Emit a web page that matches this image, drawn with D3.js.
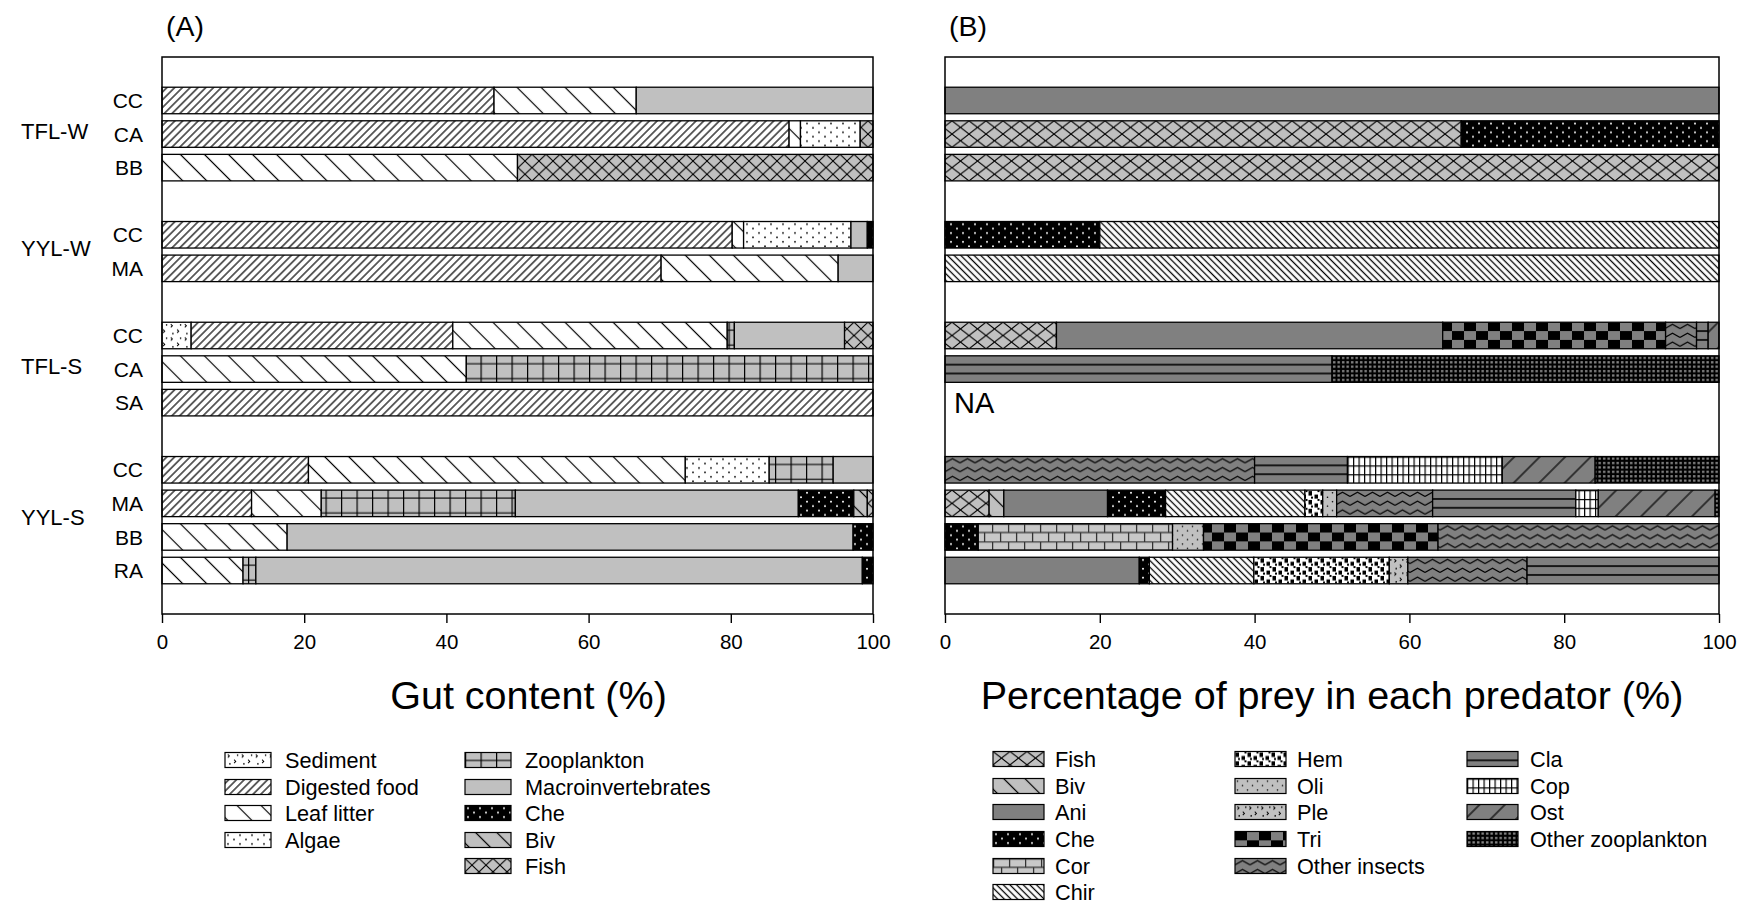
<!DOCTYPE html>
<html>
<head>
<meta charset="utf-8">
<script src="https://cdn.jsdelivr.net/npm/d3@7"></script>
<style>
  body { margin: 0; background: #fff; }
  svg { display: block; font-family: "Liberation Sans", Arial, Helvetica, sans-serif; }
</style>
</head>
<body>
<svg id="chart" width="1740" height="905"></svg>
<script>
// ---- data ---------------------------------------------------------------
const groupNames = ["TFL-W", "YYL-W", "TFL-S", "YYL-S"];
const groupPredators = [["CC", "CA", "BB"], ["CC", "MA"], ["CC", "CA", "SA"], ["CC", "MA", "BB", "RA"]];

// (A) gut content categories, stacked left to right
const gutItems = ["Sediment", "Digested food", "Leaf litter", "Algae", "Zooplankton",
                  "Macroinvertebrates", "Che", "Biv", "Fish"];
// one row per predator, in the order of groupPredators (values in %)
const gutContent = [
  [0,   46.7, 20.0, 0,    0,    33.3, 0,   0,   0  ],  // TFL-W CC
  [0,   88.2,  1.6, 8.4,  0,    0,    0,   0,   1.8],  // TFL-W CA
  [0,   0,    50.0, 0,    0,    0,    0,   0,  50.0],  // TFL-W BB
  [0,   80.2,  1.6, 15.1, 0,    2.3,  0.8, 0,   0  ],  // YYL-W CC
  [0,   70.2, 24.9, 0,    0,    4.9,  0,   0,   0  ],  // YYL-W MA
  [4.1, 36.8, 38.6, 0,    1.0, 15.5,  0,   0,   4.0],  // TFL-S CC
  [0,   0,    42.8, 0,   57.2,  0,    0,   0,   0  ],  // TFL-S CA
  [0, 100.0,   0,   0,    0,    0,    0,   0,   0  ],  // TFL-S SA
  [0,   20.6, 53.0, 11.8, 9.0,  5.6,  0,   0,   0  ],  // YYL-S CC
  [0,   12.6,  9.8, 0,   27.3, 39.8,  7.8, 1.9, 0.8],  // YYL-S MA
  [0,   0,    17.6, 0,    0,   79.6,  2.8, 0,   0  ],  // YYL-S BB
  [0,   0,    11.4, 0,    1.8, 85.3,  1.5, 0,   0  ]   // YYL-S RA
];

// (B) prey categories, stacked left to right
const preyItems = ["Fish", "Biv", "Ani", "Che", "Cor", "Chir", "Hem", "Oli", "Ple", "Tri",
                   "Other insects", "Cla", "Cop", "Ost", "Other zooplankton"];
// null marks a predator without prey data (NA)
const preyShare = [
  [0,    0,   100,  0,   0,    0,    0,    0,   0,   0,    0,    0,    0,    0,    0   ],  // TFL-W CC
  [66.7, 0,   0,   33.3, 0,    0,    0,    0,   0,   0,    0,    0,    0,    0,    0   ],  // TFL-W CA
  [100,  0,   0,    0,   0,    0,    0,    0,   0,   0,    0,    0,    0,    0,    0   ],  // TFL-W BB
  [0,    0,   0,   20.0, 0,   80.0,  0,    0,   0,   0,    0,    0,    0,    0,    0   ],  // YYL-W CC
  [0,    0,   0,    0,   0,  100,    0,    0,   0,   0,    0,    0,    0,    0,    0   ],  // YYL-W MA
  [14.4, 0,  49.9,  0,   0,    0,    0,    0,   0,  28.8,  4.0,  1.5,  0,    1.4,  0   ],  // TFL-S CC
  [0,    0,   0,    0,   0,    0,    0,    0,   0,   0,    0,   50.0,  0,    0,   50.0 ],  // TFL-S CA
  null,                                                                                     // TFL-S SA
  [0,    0,   0,    0,   0,    0,    0,    0,   0,   0,   40.0, 12.0, 20.0, 12.0, 16.0 ],  // YYL-S CC
  [5.7,  1.9, 13.4, 7.5, 0,   18.0,  2.3,  1.8, 0,   0,   12.4, 18.5,  2.9, 15.1,  0.5 ],  // YYL-S MA
  [0,    0,   0,    4.3, 25.1, 0,    0,    4.0, 0,  30.3, 36.3,  0,    0,    0,    0   ],  // YYL-S BB
  [0,    0,  25.1,  1.3, 0,   13.5, 17.5,  0,   2.4, 0,   15.4, 24.8,  0,    0,    0   ]   // YYL-S RA
];

const xTicks = [0, 20, 40, 60, 80, 100];
const panelLabels = ["(A)", "(B)"];
const axisTitles = ["Gut content (%)", "Percentage of prey in each predator (%)"];

// ---- layout -------------------------------------------------------------
const svg = d3.select("#chart");
const defs = svg.append("defs");
const FONT = 21;
const LEGEND_FONT = 21.7;
const LIGHT = "#c0c0c0", DARK = "#808080";

const plotTop = 57, plotBottom = 614;
const panels = [
  { x0: 162, x1: 873, titleShift: 11 },
  { x0: 945, x1: 1719, titleShift: 0 }
];

// each group is followed by an empty slot
const rows = [];
let slot = 0;
groupPredators.forEach((preds, gi) => {
  preds.forEach(p => rows.push({ group: gi, pred: p, slot: slot++ }));
  slot++;
});
const nSlots = slot - 1;

const y = d3.scaleBand()
  .domain(d3.range(nSlots))
  .range([plotTop, plotBottom])
  .paddingInner(0.21)
  .paddingOuter(0.9);
const bh = y.bandwidth();

// ---- fill patterns ------------------------------------------------------
function pat(id, w, h, bg, rotate) {
  const p = defs.append("pattern")
    .attr("id", id)
    .attr("patternUnits", "userSpaceOnUse")
    .attr("width", w).attr("height", h);
  if (rotate) p.attr("patternTransform", `rotate(${rotate})`);
  p.append("rect").attr("width", w).attr("height", h).attr("fill", bg);
  return p;
}
function line(p, x1, y1, x2, y2, sw, col) {
  p.append("line").attr("x1", x1).attr("y1", y1).attr("x2", x2).attr("y2", y2)
    .attr("stroke", col || "#000").attr("stroke-width", sw || 1.2);
}
function hatch(id, w, bg, rotate, sw) {
  const p = pat(id, w, w, bg, rotate);
  line(p, w / 2, 0, w / 2, w, sw);
}
function cross(id, w, h, bg) {
  const p = pat(id, w, h, bg);
  line(p, 0, 0, w, h, 1.1);
  line(p, w, 0, 0, h, 1.1);
}
function dots(id, w, h, bg, col, r) {
  const p = pat(id, w, h, bg);
  p.append("circle").attr("cx", w * 0.25).attr("cy", h * 0.3).attr("r", r).attr("fill", col);
  p.append("circle").attr("cx", w * 0.75).attr("cy", h * 0.8).attr("r", r).attr("fill", col);
}
function specks(id, w, h, bg) {
  const p = pat(id, w, h, bg);
  p.append("path").attr("d", `M${w*0.2},${h*0.15} l1.6,1.6 l-1.6,1.6`)
    .attr("fill", "none").attr("stroke", "#000").attr("stroke-width", 1);
  p.append("path").attr("d", `M${w*0.65},${h*0.55} l1.6,1.6 l-1.6,1.6`)
    .attr("fill", "none").attr("stroke", "#000").attr("stroke-width", 1);
  p.append("circle").attr("cx", w * 0.9).attr("cy", h * 0.2).attr("r", 0.8).attr("fill", "#000");
  p.append("circle").attr("cx", w * 0.35).attr("cy", h * 0.85).attr("r", 0.8).attr("fill", "#000");
}

// (A) fills
specks("a-0", 14, bh / 2, "#fff");                    // Sediment
hatch("a-1", 5.5, "#fff", 45, 1.2);                   // Digested food
hatch("a-2", 17, "#fff", -45, 1.2);                   // Leaf litter
dots("a-3", 12, bh / 3, "#fff", "#000", 0.9);         // Algae
{                                                     // Zooplankton
  const p = pat("a-4", 15.5, bh, LIGHT);
  line(p, 0.6, 0, 0.6, bh, 1.2);
  line(p, 0, bh * 0.3, 15.5, bh * 0.3, 1.1);
  line(p, 0, bh * 0.86, 15.5, bh * 0.86, 1.1);
}
pat("a-5", 10, 10, LIGHT);                            // Macroinvertebrates
dots("a-6", 12, bh / 3, "#000", "#fff", 1.0);         // Che
hatch("a-7", 15, LIGHT, -45, 1.2);                    // Biv
cross("a-8", 14, bh / 2, LIGHT);                      // Fish

// (B) fills
cross("b-0", 17, bh / 2, LIGHT);                      // Fish
hatch("b-1", 15, LIGHT, -45, 1.2);                    // Biv
pat("b-2", 10, 10, DARK);                             // Ani
dots("b-3", 12, bh / 3, "#000", "#fff", 1.0);         // Che
{                                                     // Cor (bricks)
  const r = bh / 3;
  const p = pat("b-4", 32, 2 * r, "#c8c8c8");
  line(p, 0, 0.5, 32, 0.5, 1.3, "#333");
  line(p, 0, r, 32, r, 1.3, "#333");
  line(p, 0.6, 0, 0.6, r, 1.3, "#333");
  line(p, 16.6, 0, 16.6, r, 1.3, "#333");
  line(p, 8.6, r, 8.6, 2 * r, 1.3, "#333");
  line(p, 24.6, r, 24.6, 2 * r, 1.3, "#333");
}
hatch("b-5", 4.7, "#fff", -45, 1.3);                  // Chir
{                                                     // Hem
  const h = bh / 3;
  const p = pat("b-6", 12, h, "#fff");
  [[0.5, 1, 3.5, 4.5], [6.5, 4.5, 3.5, 4], [9.5, 0, 2, 2], [3, 6.5, 2, 2]].forEach(d =>
    p.append("rect").attr("x", d[0]).attr("y", d[1]).attr("width", d[2]).attr("height", d[3]).attr("fill", "#000"));
}
dots("b-7", 10, bh / 3, LIGHT, "#000", 0.8);          // Oli
specks("b-8", 12, bh / 2, LIGHT);                     // Ple
{                                                     // Tri (checkerboard)
  const c = bh / 3;
  const p = pat("b-9", 24, 2 * c, DARK);
  p.append("rect").attr("width", 12).attr("height", c).attr("fill", "#000");
  p.append("rect").attr("x", 12).attr("y", c).attr("width", 12).attr("height", c).attr("fill", "#000");
}
{                                                     // Other insects (zigzag)
  const h = bh / 3;
  const p = pat("b-10", 15, h, DARK);
  p.append("polyline").attr("points", `0,${h * 0.72} 7.5,${h * 0.25} 15,${h * 0.72}`)
    .attr("fill", "none").attr("stroke", "#000").attr("stroke-width", 1.1);
}
{                                                     // Cla
  const p = pat("b-11", 10, bh, DARK);
  line(p, 0, bh / 3, 10, bh / 3, 1.6);
  line(p, 0, 2 * bh / 3, 10, 2 * bh / 3, 1.6);
}
{                                                     // Cop (fine grid)
  const h = bh / 3;
  const p = pat("b-12", 5.5, h, "#fff");
  line(p, 0.6, 0, 0.6, h, 1.2);
  line(p, 0, 0.6, 5.5, 0.6, 1.2);
}
hatch("b-13", 18, DARK, 45, 1.2);                     // Ost
{                                                     // Other zooplankton
  const p = pat("b-14", 4.5, 4.4, "#000");
  p.append("rect").attr("x", 1).attr("y", 1).attr("width", 2.4).attr("height", 2.2).attr("fill", "#8a8a8a");
}

// ---- panels -------------------------------------------------------------
function drawPanel(pi, items, table, prefix) {
  const pn = panels[pi];
  const x = d3.scaleLinear().domain([0, 100]).range([pn.x0, pn.x1]);
  const g = svg.append("g");

  rows.forEach((r, ri) => {
    const vals = table[ri];
    const rowG = g.append("g").attr("transform", `translate(0,${y(r.slot)})`);
    if (!vals) {
      rowG.append("text")
        .attr("x", x(0) + 9).attr("y", bh / 2).attr("dy", "0.36em")
        .attr("font-size", 29).text("NA");
      return;
    }
    let cum = 0;
    const segs = [];
    vals.forEach((v, k) => {
      if (v > 0) segs.push({ k, a: cum, b: cum + v });
      cum += v;
    });
    rowG.selectAll("rect").data(segs).join("rect")
      .attr("x", d => x(d.a))
      .attr("width", d => x(d.b) - x(d.a))
      .attr("y", 0).attr("height", bh)
      .attr("fill", d => `url(#${prefix}-${d.k})`)
      .attr("stroke", "#000").attr("stroke-width", 1.3);
  });

  // frame
  g.append("rect")
    .attr("x", pn.x0).attr("y", plotTop)
    .attr("width", pn.x1 - pn.x0).attr("height", plotBottom - plotTop)
    .attr("fill", "none").attr("stroke", "#000").attr("stroke-width", 1.5);

  // x axis
  const ax = g.append("g")
    .attr("transform", `translate(0,${plotBottom})`)
    .call(d3.axisBottom(x).tickValues(xTicks).tickSize(9).tickSizeOuter(0).tickPadding(11));
  ax.select(".domain").remove();
  ax.selectAll(".tick line").attr("stroke", "#000").attr("stroke-width", 1.4);
  ax.selectAll(".tick text").attr("font-size", 20.5).attr("fill", "#000")
    .attr("font-family", "'Liberation Sans', Arial, sans-serif");

  // axis title
  g.append("text")
    .attr("x", (pn.x0 + pn.x1) / 2 + pn.titleShift).attr("y", 709)
    .attr("text-anchor", "middle").attr("font-size", 39.5)
    .text(axisTitles[pi]);

  // panel label
  g.append("text")
    .attr("x", pn.x0 + 4).attr("y", 36)
    .attr("font-size", 28.5)
    .text(panelLabels[pi]);
}

drawPanel(0, gutItems, gutContent, "a");
drawPanel(1, preyItems, preyShare, "b");

// predator and group labels on the left
const lab = svg.append("g").attr("font-size", FONT);
rows.forEach(r => {
  lab.append("text")
    .attr("x", 143).attr("y", y(r.slot) + bh / 2).attr("dy", "0.36em")
    .attr("text-anchor", "end").text(r.pred);
});
groupNames.forEach((name, gi) => {
  const gr = rows.filter(r => r.group === gi);
  const top = y(gr[0].slot), bot = y(gr[gr.length - 1].slot) + bh;
  lab.append("text")
    .attr("x", 21).attr("y", (top + bot) / 2 - 3).attr("dy", "0.36em")
    .attr("font-size", 22)
    .text(name);
});

// ---- legends ------------------------------------------------------------
function legend(items, prefix, columns, rowYs, sw) {
  const g = svg.append("g").attr("font-size", LEGEND_FONT);
  columns.forEach(col => {
    col.idx.forEach((k, j) => {
      const cy = rowYs[j];
      const s = g.append("g").attr("transform", `translate(${col.sx},${cy - 7.5})`);
      s.append("rect").attr("width", sw).attr("height", 15)
        .attr("fill", `url(#${prefix}-${k})`)
        .attr("stroke", "#000").attr("stroke-width", 1.2);
      g.append("text").attr("x", col.tx).attr("y", cy).attr("dy", "0.36em").text(items[k]);
    });
  });
}

legend(gutItems, "a", [
  { sx: 225, tx: 285, idx: [0, 1, 2, 3] },
  { sx: 465, tx: 525, idx: [4, 5, 6, 7, 8] }
], [760, 787, 813, 840, 866], 46);

legend(preyItems, "b", [
  { sx: 993, tx: 1055, idx: [0, 1, 2, 3, 4, 5] },
  { sx: 1235, tx: 1297, idx: [6, 7, 8, 9, 10] },
  { sx: 1467, tx: 1530, idx: [11, 12, 13, 14] }
], [759, 786, 812, 839, 866, 892], 51);
</script>
</body>
</html>
